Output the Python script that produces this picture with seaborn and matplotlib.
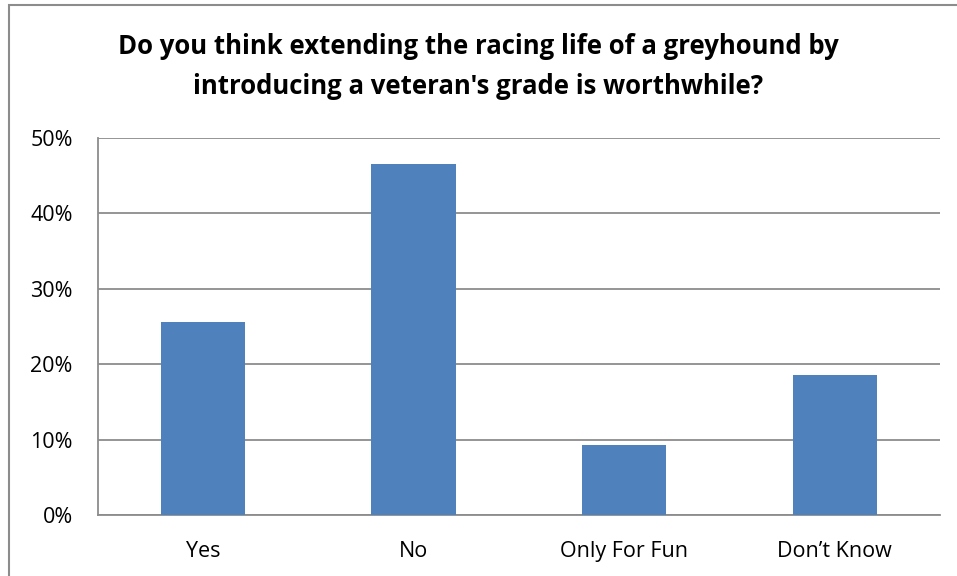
import matplotlib
matplotlib.use("Agg")
import matplotlib.pyplot as plt
import matplotlib.patches as mpatches
from matplotlib.ticker import FuncFormatter
import seaborn as sns
import pandas as pd

categories = ["Yes", "No", "Only For Fun", "Don\u2019t Know"]
shares = [25.6, 46.5, 9.3, 18.6]
y_ticks = [0, 10, 20, 30, 40, 50]

sns.set_theme(style="white")
plt.rcParams["font.family"] = ["Open Sans", "DejaVu Sans"]

df = pd.DataFrame({"answer": categories, "share": shares})

W, H = 957, 576
fig = plt.figure(figsize=(W / 100, H / 100), dpi=100)
ax = fig.add_axes([97.7 / W, 1 - 515 / H, (940 - 97.7) / W, (515 - 137.7) / H])

sns.barplot(data=df, x="answer", y="share", color="#4F81BD", width=0.4,
            saturation=1, linewidth=0, ax=ax, zorder=3)

grid_c = "#8C8C8C"
ax.set_ylim(0, 50)
ax.set_xlim(-0.5, len(categories) - 0.5)
ax.set_yticks(y_ticks)
ax.yaxis.set_major_formatter(FuncFormatter(lambda v, p: f"{v:.0f}%"))
ax.yaxis.grid(True, color=grid_c, linewidth=1.3, zorder=0)
ax.set_axisbelow(True)
for side in ("top", "right"):
    ax.spines[side].set_visible(False)
for side in ("left", "bottom"):
    ax.spines[side].set_color(grid_c)
    ax.spines[side].set_linewidth(1.3)
ax.tick_params(axis="both", length=0, labelsize=15.5, colors="#000000")
ax.tick_params(axis="y", pad=18)
ax.tick_params(axis="x", pad=19)
ax.set_xlabel("")
ax.set_ylabel("")

fig.text(0.5, 1 - 47 / H, "Do you think extending the racing life of a greyhound by",
         ha="center", va="center", fontsize=18.5, fontweight="bold", color="black")
fig.text(0.5, 1 - 86 / H, "introducing a veteran's grade is worthwhile?",
         ha="center", va="center", fontsize=18.5, fontweight="bold", color="black")

# chart frame
fig.patches.append(mpatches.Rectangle((9 / W, -0.1), 1.2, 1 - 5 / H + 0.1,
                                      transform=fig.transFigure, fill=False,
                                      edgecolor="#8C8C8C", linewidth=1.5))

fig.savefig("out.png", dpi=100)
